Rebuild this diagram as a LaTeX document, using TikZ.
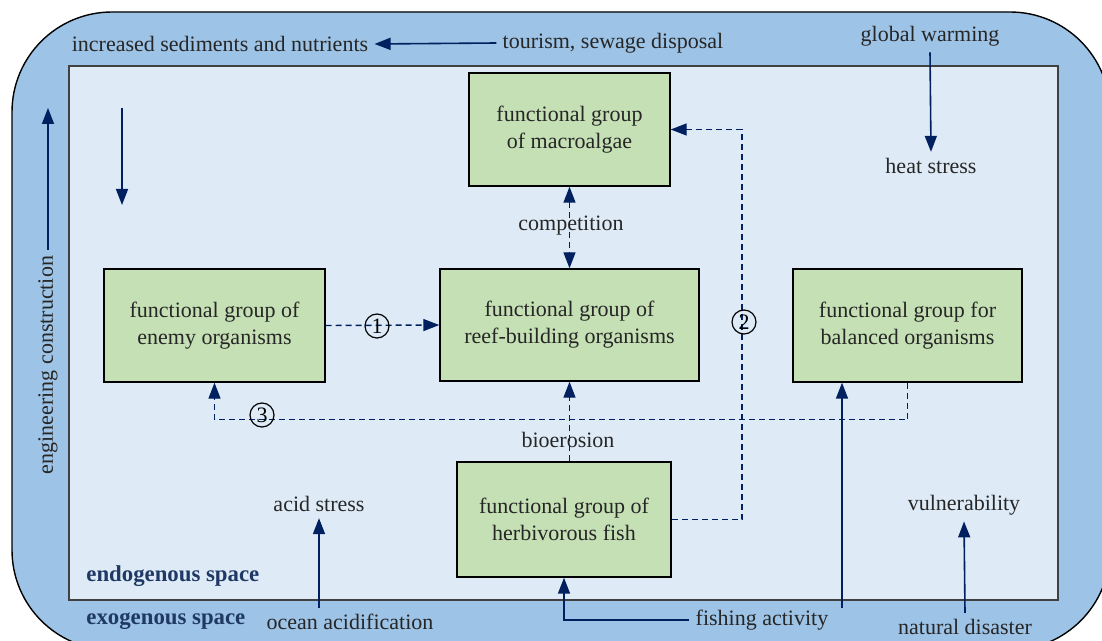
\documentclass[tikz,border=0pt]{standalone}
\usepackage{fontspec}
\setmainfont{Liberation Serif}
\usetikzlibrary{arrows.meta,calc}
\definecolor{outerbg}{HTML}{9DC3E6}
\definecolor{innerbg}{HTML}{DEEBF7}
\definecolor{grp}{HTML}{C5E0B4}
\definecolor{navy}{HTML}{002060}
\definecolor{txt}{HTML}{262626}
\definecolor{spcol}{HTML}{1F3864}
\tikzset{
  box/.style={draw=black,line width=0.7pt,fill=grp,align=center,text=txt,inner sep=0pt},
  lbl/.style={text=txt,inner sep=3pt},
  ar/.style={-{Triangle[length=8pt,width=6pt]},line width=0.8pt,draw=navy},
  dln/.style={line width=0.7pt,draw=navy,dash pattern=on 3pt off 2pt},
  dar/.style={dln,-{Triangle[length=8pt,width=6pt]}},
  dar2/.style={dln,{Triangle[length=8pt,width=6pt]}-{Triangle[length=8pt,width=6pt]}},
  cnum/.style={circle,draw=black,line width=0.6pt,inner sep=0pt,minimum size=12pt,text=black},
  spc/.style={font=\fontsize{11.4}{13}\selectfont\bfseries,text=spcol,anchor=west,inner sep=0pt},
}

\begin{document}
\begin{tikzpicture}[x=0.5pt,y=-0.5pt,font=\fontsize{11}{13.5}\selectfont]
  \clip (0,0) rectangle (1102,641);
  % exogenous and endogenous space
  \draw[fill=outerbg,draw=black,line width=0.7pt,rounded corners=50pt] (12,12) rectangle (1110,650);
  \draw[fill=innerbg,draw=black!75,line width=1pt] (69,66) rectangle (1058,600);

  % functional groups
  \node[box,minimum width=100.5pt,minimum height=56.5pt] (macro) at (569.5,129.5) {functional group\\of macroalgae};
  \node[box,minimum width=110.5pt,minimum height=56.5pt] (enemy) at (214.5,325.5) {functional group of\\enemy organisms};
  \node[box,minimum width=129.5pt,minimum height=56pt] (reef) at (569.5,325) {functional group of\\reef-building organisms};
  \node[box,minimum width=114.5pt,minimum height=56.5pt] (bal) at (907.5,325.5) {functional group for\\balanced organisms};
  \node[box,minimum width=107pt,minimum height=57.5pt] (herb) at (564,519.5) {functional group of\\herbivorous fish};

  % drivers and stresses
  \node[lbl] (incr) at (220,44) {increased sediments and nutrients};
  \node[lbl] (tour) at (613,43) {tourism, sewage disposal};
  \node[lbl] (gw) at (930,36) {global warming};
  \node[lbl] (heat) at (931,166) {heat stress};
  \node[lbl,rotate=90] (eng) at (48,365) {engineering construction};
  \node[lbl] (acid) at (319,504) {acid stress};
  \node[lbl] (ocean) at (350,622) {ocean acidification};
  \node[lbl] (fish) at (762,620) {fishing activity};
  \node[lbl] (vuln) at (964,505) {vulnerability};
  \node[lbl] (nat) at (965,627) {natural disaster};
  \node[lbl] (comp) at (571,226) {competition};
  \node[lbl] (bio) at (568,440) {bioerosion};
  \node[spc] (endo) at (86,576) {endogenous space};
  \node[spc] (exo) at (86,621) {exogenous space};

  \coordinate (dtop) at (122,108);
  \coordinate (dbot) at (122,205);
  \coordinate (l2) at (742,129.5);
  \coordinate (ftop) at (842,608);

  \draw[ar] (tour.west) -- (incr.east);
  \draw[ar] (gw.south) -- (heat.north);
  \draw[ar] (eng.east) -- (eng.east |- dtop);
  \draw[ar] (dtop) -- (dbot);
  \draw[ar] (acid.south |- ocean.north) -- (acid.south);
  \draw[ar] (nat.north) -- (vuln.south);
  \draw[ar] (fish.west) -| (herb.south);
  \draw[ar] (ftop) -- (ftop |- bal.south);

  % interactions between groups
  \draw[dar2] (macro.south) -- (reef.north);
  \draw[dar] (enemy.east) -- (reef.west);
  \draw[dar] (reef.south |- herb.north) -- (reef.south);
  \draw[dar] (herb.east) -| (l2) -- (macro.east);
  \draw[dar] (bal.south) -- ++(0,37) -| (enemy.south);
  \node[cnum] (n1) at (377,326) {1};
  \node[cnum] (n2) at (744,322) {2};
  \node[cnum] (n3) at (262,415) {3};
\end{tikzpicture}
\end{document}
